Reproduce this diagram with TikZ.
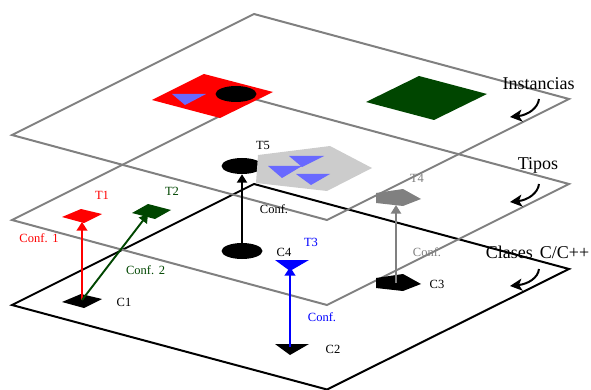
\documentclass[tikz,border=0pt]{standalone}
\usepackage{fontspec}
\setmainfont{Liberation Serif}
\usetikzlibrary{arrows.meta,shapes.geometric}
\definecolor{dkgreen}{RGB}{0,70,0}
\definecolor{tribl}{RGB}{105,105,255}
\definecolor{lgray}{RGB}{204,204,204}
\tikzset{
  plane/.style={line width=2pt,line join=miter},
  lab/.style={font=\fontsize{12.5}{14}\selectfont,inner sep=0pt,anchor=center},
  biglab/.style={font=\fontsize{18}{20}\selectfont,inner sep=0pt,anchor=center},
  up/.style={line width=2.4pt,-{Triangle[length=8.5pt,width=10.5pt]}},
  upthin/.style={line width=1.9pt,-{Triangle[length=8.5pt,width=10pt]}},
  curl/.style={line width=2pt,-{Stealth[length=12pt,width=12pt,inset=3pt]}},
  ell/.style={ellipse,fill=black,inner sep=0pt,minimum width=41pt,minimum height=16pt}
}
\begin{document}
\begin{tikzpicture}[x=1pt,y=-1pt]
\useasboundingbox (0,0) rectangle (591,390);
% planes, back to front
\draw[plane,black] (12,305)--(254,184)--(569,269)--(327,389.5)--cycle;
\draw[plane,gray] (12,220)--(254,99)--(569,184)--(327,305)--cycle;
\draw[plane,gray] (12,135)--(254,14)--(569,99)--(327,220)--cycle;
% instance plane shapes
\fill[red] (152,100)--(204,74)--(273,92)--(220,118)--cycle;
\fill[tribl] (172,94)--(206,94)--(185,105)--cycle;
\node[ell] (I1) at (236,94) {};
\fill[dkgreen] (366,102)--(419,76)--(487,94)--(434,120)--cycle;
% types plane shapes
\fill[red] (62,217)--(81,209)--(102,214)--(84,223)--cycle;
\fill[dkgreen] (132,213)--(148,204)--(171,210)--(155,219)--cycle;
\fill[blue] (275,260)--(309,260)--(290,271)--cycle;
\fill[gray] (376,193)--(403,189)--(421,199)--(403,206)--(376,203)--cycle;
\node[ell] (T5s) at (242,166) {};
\fill[lgray] (258,155)--(330,146)--(372,168)--(327,191)--(256,183)--cycle;
\fill[tribl] (289,156)--(324,156)--(302,167)--cycle;
\fill[tribl] (268,166)--(302,166)--(282,178)--cycle;
\fill[tribl] (296,174)--(330,174)--(311,185)--cycle;
% class plane shapes
\fill[black] (62,302)--(81,294)--(102,299)--(84,308)--cycle;
\fill[black] (275,344)--(309,344)--(290,355)--cycle;
\fill[black] (376,278)--(403,274)--(421,284)--(403,291)--(376,288)--cycle;
\node[ell] (C4s) at (242,251) {};
% connector ends
\coordinate (C1a) at (82,300);
\coordinate (T1a) at (82,222);
\coordinate (T2a) at (148,214);
\coordinate (C2a) at (290,347);
\coordinate (T3a) at (290,267);
\coordinate (C3a) at (396,283);
\coordinate (T4a) at (396,205);
\draw[up,red] (C1a)--(T1a);
\draw[upthin,dkgreen] (C1a)--(T2a);
\draw[up,blue] (C2a)--(T3a);
\draw[upthin,gray] (C3a)--(T4a);
\draw[upthin,black,line width=2.2pt] (C4s.center)--(T5s.south);
% curved arrows
\coordinate (a1) at (539,99); \coordinate (b1) at (510,117);
\coordinate (a2) at (539,184); \coordinate (b2) at (510,202);
\coordinate (a3) at (539,269); \coordinate (b3) at (510,286);
\draw[curl] (a1) .. controls (538,108) and (528,115) .. (b1);
\draw[curl] (a2) .. controls (538,193) and (528,200) .. (b2);
\draw[curl] (a3) .. controls (538,278) and (528,284) .. (b3);
% labels
\node[biglab] (l1) at (538.5,84) {Instancias};
\node[biglab] (l2) at (538,165) {Tipos};
\node[biglab] (l3) at (537.5,252) {Clases\kern2.5pt\ C/C++};
\node[lab,red] (n1) at (102,195) {T1};
\node[lab,dkgreen] (n2) at (172,191) {T2};
\node[lab,blue] (n3) at (311,242) {T3};
\node[lab,gray] (n4) at (417,178) {T4};
\node[lab] (n5) at (263,145) {T5};
\node[lab] (c1) at (124,302) {C1};
\node[lab] (c2) at (333,349) {C2};
\node[lab] (c3) at (437,284) {C3};
\node[lab] (c4) at (284,252) {C4};
\node[lab,red] (f1) at (39,238) {Conf.\kern1.5pt\ 1};
\node[lab,dkgreen] (f2) at (145.5,270) {Conf.\kern1.5pt\ 2};
\node[lab] (f5) at (274,209) {Conf.};
\node[lab,blue] (f3) at (322,317) {Conf.};
\node[lab,gray] (f4) at (427,252) {Conf.};
\end{tikzpicture}
\end{document}
